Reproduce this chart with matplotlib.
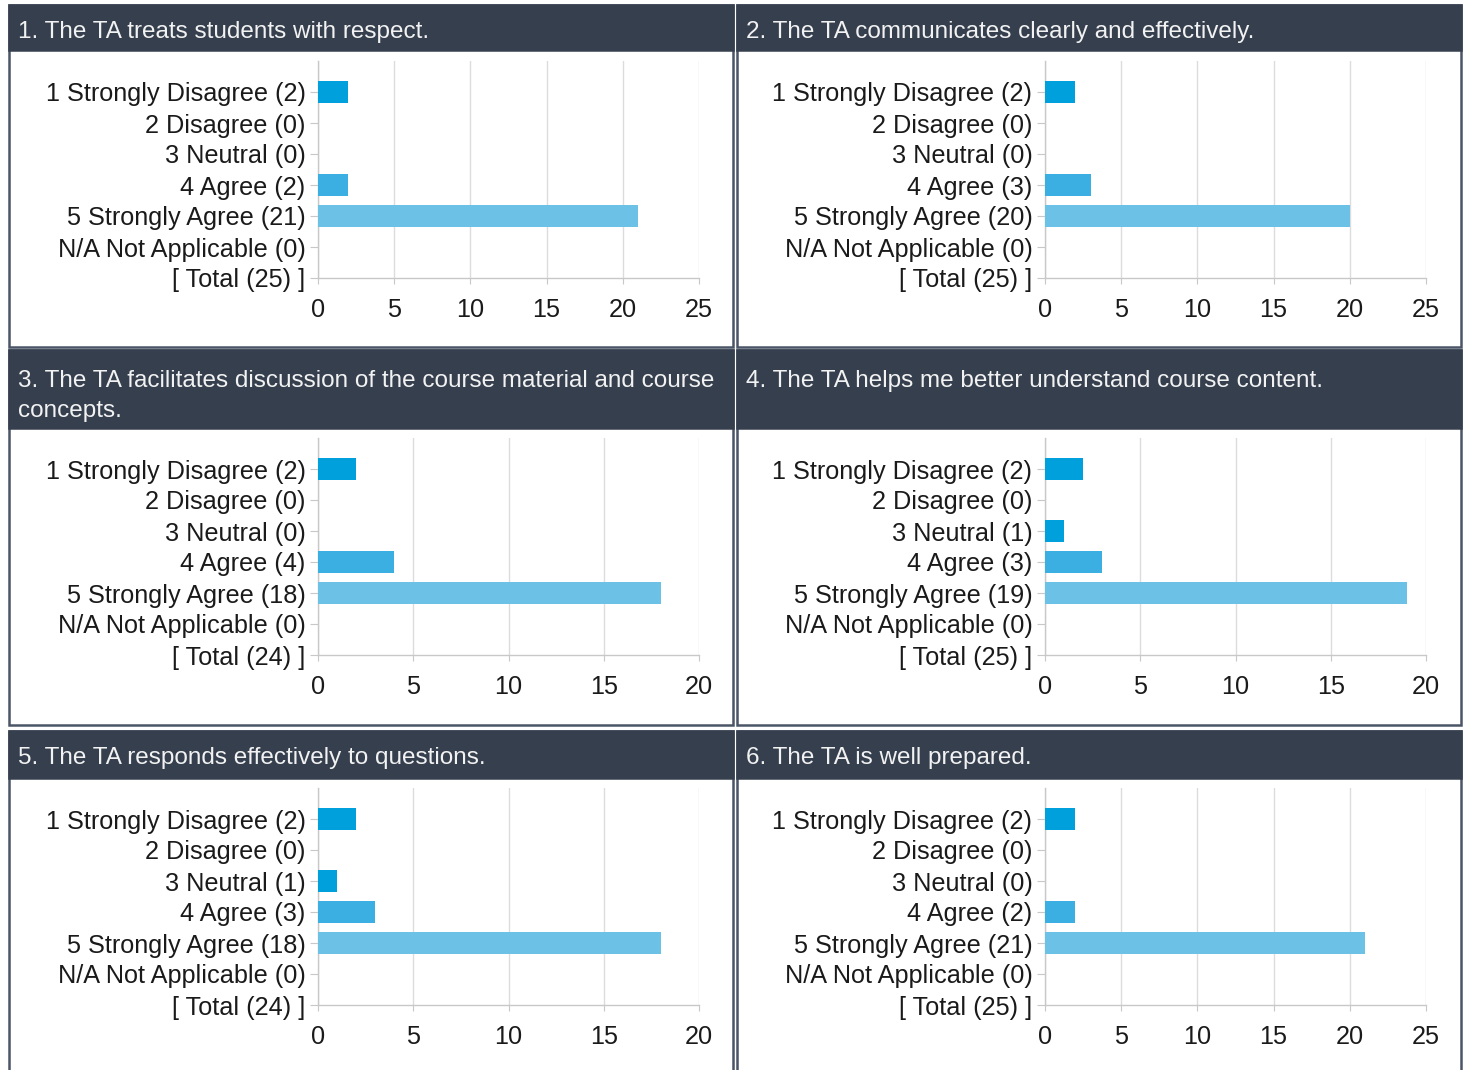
import matplotlib
matplotlib.use("Agg")
import matplotlib.pyplot as plt
from matplotlib.patches import Rectangle

plt.rcParams['font.family'] = ['Liberation Sans', 'DejaVu Sans']

# ---------------- data ----------------
titles = [
    "1. The TA treats students with respect.",
    "2. The TA communicates clearly and effectively.",
    "3. The TA facilitates discussion of the course material and course\nconcepts.",
    "4. The TA helps me better understand course content.",
    "5. The TA responds effectively to questions.",
    "6. The TA is well prepared.",
]
categories = ["1 Strongly Disagree", "2 Disagree", "3 Neutral", "4 Agree",
              "5 Strongly Agree", "N/A Not Applicable"]
q1 = [2, 0, 0, 2, 21, 0]
q2 = [2, 0, 0, 3, 20, 0]
q3 = [2, 0, 0, 4, 18, 0]
q4 = [2, 0, 1, 3, 19, 0]
q5 = [2, 0, 1, 3, 18, 0]
q6 = [2, 0, 0, 2, 21, 0]
series = [q1, q2, q3, q4, q5, q6]
xmax = [25, 25, 20, 20, 20, 25]
bar_colors = ['#00a0dc', '#00a0dc', '#00a0dc', '#3cafe2', '#6cc1e6', '#6cc1e6']

# ---------------- layout (pixels) ----------------
W, H = 1467, 1070
HEADER = '#353f4e'
BORDER = '#4a5568'
cols = [(9, 733), (737, 1461)]
rows = [(5, 50, 347), (350, 428, 725), (731, 778, 1080)]
ax_cols = [(318, 699), (1045, 1426)]
ax_rows = [(61, 278), (438, 655), (788, 1005)]
title_base = [38, 387, 764]
FS_T = 17.5
FS = 18.2

fig = plt.figure(figsize=(W / 100, H / 100), dpi=100)
fig.patch.set_facecolor('white')


def fx(x):
    return x / W


def fy(y):
    return 1 - y / H


for i, vals in enumerate(series):
    c, r = i % 2, i // 2
    x0, x1 = cols[c]
    y0, yh, y1 = rows[r]
    # panel border + body
    fig.add_artist(Rectangle((fx(x0), fy(y1)), fx(x1) - fx(x0), fy(y0) - fy(y1),
                             transform=fig.transFigure, facecolor='white',
                             edgecolor=BORDER, lw=1.8, zorder=0))
    # header
    fig.add_artist(Rectangle((fx(x0), fy(yh)), fx(x1) - fx(x0), fy(y0) - fy(yh),
                             transform=fig.transFigure, facecolor=HEADER,
                             edgecolor=HEADER, lw=1.8, zorder=1))
    for k, line in enumerate(titles[i].split('\n')):
        fig.text(fx(x0 + 9), fy(title_base[r] + 30 * k), line, color='#f2f2f2',
                 fontsize=FS_T, va='baseline', ha='left', zorder=2)

    ax_x0, ax_x1 = ax_cols[c]
    ay0, ay1 = ax_rows[r]
    ax = fig.add_axes([fx(ax_x0), fy(ay1), (ax_x1 - ax_x0) / W, (ay1 - ay0) / H])
    ax.set_facecolor('none')
    ax.barh(range(len(vals)), vals, height=0.74, color=bar_colors, zorder=3)
    total = sum(vals)
    labels = [f"{cat} ({v})" for cat, v in zip(categories, vals)] + [f"[ Total ({total}) ]"]
    ax.set_yticks(range(len(labels)))
    ax.set_yticklabels(labels)
    ax.set_ylim(len(labels) - 1, -1)
    ax.set_xlim(0, xmax[i])
    ax.set_xticks(range(0, xmax[i] + 1, 5))
    ax.grid(axis='x', color='#dcdcdc', lw=1, zorder=0)
    ax.set_axisbelow(True)
    for s in ['top', 'right']:
        ax.spines[s].set_visible(False)
    for s in ['left', 'bottom']:
        ax.spines[s].set_color('#c8c8c8')
        ax.spines[s].set_linewidth(1)
    ax.tick_params(axis='y', length=6, color='#c8c8c8', labelsize=FS, pad=3,
                   labelcolor='#1a1a1a')
    ax.tick_params(axis='x', length=4, color='#c8c8c8', labelsize=FS, pad=10.5,
                   labelcolor='#1a1a1a')

fig.savefig('out.png', dpi=100, facecolor='white')
